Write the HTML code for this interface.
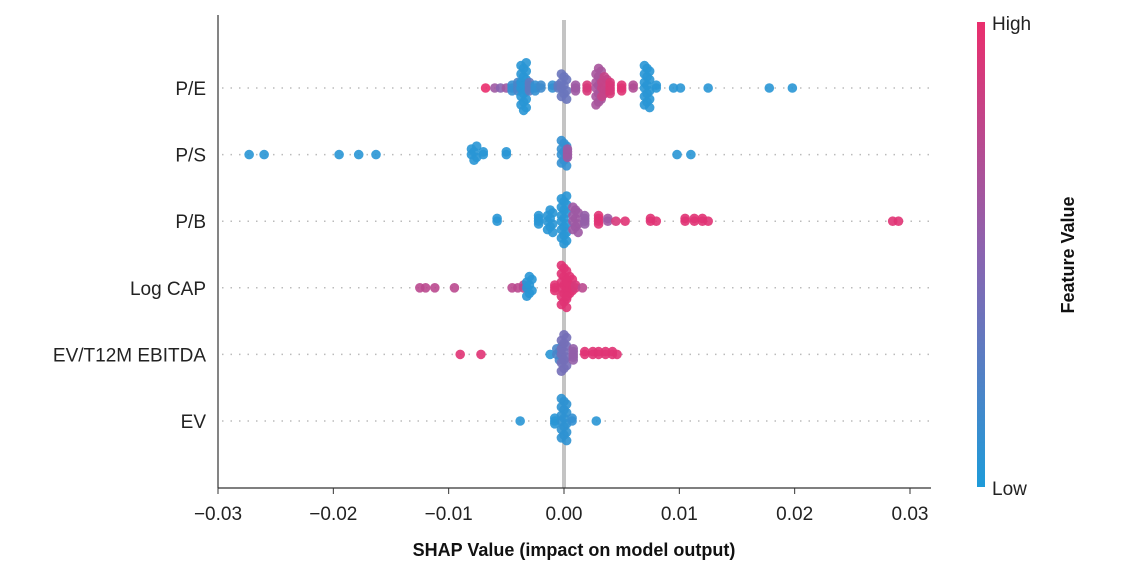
<!DOCTYPE html>
<html><head><meta charset="utf-8"><style>
html,body{margin:0;padding:0;background:#fff;width:1124px;height:568px;overflow:hidden}
svg{font-family:"Liberation Sans",sans-serif}
</style></head><body>
<svg id="chart" width="1124" height="568">
<defs><linearGradient id="cb" x1="0" y1="0" x2="0" y2="1"><stop offset="0" stop-color="#ea2e6d"/><stop offset="0.5" stop-color="#8a64b0"/><stop offset="1" stop-color="#1e9bd9"/></linearGradient></defs>
<g id="grid"></g>
<rect x="562" y="20" width="4" height="468" fill="#c4c4c4"/>
<g id="pts"></g>
<line x1="218" y1="15" x2="218" y2="488" stroke="#333" stroke-width="1.2"/>
<line x1="218" y1="488" x2="931" y2="488" stroke="#333" stroke-width="1.2"/>
<g id="ticks"></g>
<text x="574" y="556" text-anchor="middle" font-size="18" font-weight="bold" fill="#111">SHAP Value (impact on model output)</text>
<rect x="977" y="22" width="8" height="465" fill="url(#cb)"/>
<text x="992" y="30" font-size="19" fill="#222">High</text>
<text x="992" y="495" font-size="19" fill="#222">Low</text>
<text transform="translate(1074,255) rotate(-90)" text-anchor="middle" font-size="18" font-weight="bold" fill="#111">Feature Value</text>
</svg>
<script>
const features=["P/E","P/S","P/B","Log CAP","EV/T12M EBITDA","EV"];
const xTicks=[-0.03,-0.02,-0.01,0.00,0.01,0.02,0.03];
const xTickLabels=["\u22120.03","\u22120.02","\u22120.01","0.00","0.01","0.02","0.03"];
// clusters per feature: shap value, count, feature value (0 low .. 1 high)
const peShap=[-0.0068,-0.006,-0.0055,-0.005,-0.0045,-0.004,-0.0035,-0.003,-0.0025,-0.002,-0.001,-0.0005,0.0,0.001,0.002,0.003,0.0035,0.004,0.005,0.006,0.0072,0.008,0.0095,0.0101,0.0125,0.0178,0.0198];
const peCount=[1,1,1,1,3,4,18,4,3,2,2,2,10,3,3,14,8,5,3,2,16,2,1,1,1,1,1];
const peColor=[1,0.6,0.5,0.6,0.1,0.2,0.05,0.3,0.1,0.15,0.1,0.3,0.35,0.6,0.9,0.65,0.8,0.9,0.95,0.7,0.05,0.05,0.05,0.05,0.05,0.05,0.05];
const psShap=[-0.0273,-0.026,-0.0195,-0.0178,-0.0163,-0.0078,-0.007,-0.005,0.0,0.0003,0.0098,0.011];
const psCount=[1,1,1,1,1,6,2,2,10,4,1,1];
const psColor=[0.05,0.05,0.05,0.05,0.05,0.05,0.05,0.05,0.1,0.6,0.05,0.05];
const pbShap=[-0.0058,-0.0022,-0.0012,0.0,0.001,0.0018,0.003,0.0038,0.0045,0.0053,0.0075,0.008,0.0105,0.0113,0.012,0.0125,0.0285,0.029];
const pbCount=[2,4,9,18,10,4,4,2,1,1,2,1,2,2,2,1,1,1];
const pbColor=[0.05,0.05,0.05,0.05,0.6,0.55,0.95,0.6,0.9,0.95,0.95,0.95,0.95,0.95,0.95,0.95,0.95,0.95];
const lcShap=[-0.0125,-0.012,-0.0112,-0.0095,-0.0045,-0.004,-0.0035,-0.003,-0.0008,0.0,0.0005,0.001,0.0016];
const lcCount=[1,1,1,1,1,1,2,8,3,16,8,2,1];
const lcColor=[0.75,0.75,0.75,0.75,0.75,0.75,0.75,0.05,0.95,0.95,0.95,0.9,0.75];
const evtShap=[-0.009,-0.0072,-0.0012,-0.0004,0.0,0.0008,0.0018,0.0025,0.003,0.0036,0.0042,0.0046];
const evtCount=[1,1,1,6,14,5,2,2,2,2,2,1];
const evtColor=[0.95,0.95,0.05,0.2,0.4,0.55,0.95,0.95,0.95,0.95,0.95,0.95];
const evShap=[-0.0038,-0.0008,0.0,0.0007,0.0028];
const evCount=[1,3,16,2,1];
const evColor=[0.05,0.05,0.08,0.1,0.05];
const shapSets=[peShap,psShap,pbShap,lcShap,evtShap,evShap];
const countSets=[peCount,psCount,pbCount,lcCount,evtCount,evCount];
const colorSets=[peColor,psColor,pbColor,lcColor,evtColor,evColor];

const NS="http://www.w3.org/2000/svg";
const x0=218,x1=910,rowTop=88,rowStep=66.6;
function xs(v){return x0+(v+0.03)/0.06*(x1-x0);}
function ys(i){return rowTop+i*rowStep;}
function col(t){
  const a=[30,155,217],m=[138,100,176],b=[234,46,109];
  let c;
  if(t<0.5){const u=t/0.5;c=a.map((v,k)=>Math.round(v+(m[k]-v)*u));}
  else{const u=(t-0.5)/0.5;c=m.map((v,k)=>Math.round(v+(b[k]-v)*u));}
  return "rgb("+c.join(",")+")";
}
const grid=document.getElementById("grid"),pts=document.getElementById("pts"),ticks=document.getElementById("ticks"),svg=document.getElementById("chart");
features.forEach((f,i)=>{
  const y=ys(i);
  const l=document.createElementNS(NS,"line");
  l.setAttribute("x1",222);l.setAttribute("x2",930);l.setAttribute("y1",y);l.setAttribute("y2",y);
  l.setAttribute("stroke","#bbb");l.setAttribute("stroke-width","1.5");l.setAttribute("stroke-dasharray","1.5 7");
  
  
  grid.appendChild(l);
  const t=document.createElementNS(NS,"text");
  t.setAttribute("x",206);t.setAttribute("y",y+7);t.setAttribute("text-anchor","end");
  t.setAttribute("font-size","19");t.setAttribute("fill","#222");t.textContent=f;
  
  
  svg.appendChild(t);
  const S=shapSets[i],C=countSets[i],K=colorSets[i];
  S.forEach((s,j)=>{
    for(let k=0;k<C[j];k++){
      const off=(k%2===0?1:-1)*Math.ceil(k/2)*2.8;
      const xo=C[j]>5?((k%3)-1)*2.6:0;
      const c=document.createElementNS(NS,"circle");
      c.setAttribute("cx",xs(s)+xo);c.setAttribute("cy",y+off);c.setAttribute("r",4.8);
      c.setAttribute("fill",col(K[j]));c.setAttribute("fill-opacity","0.9");
      
      
      pts.appendChild(c);
    }
  });
});
xTicks.forEach((v,i)=>{
  const x=xs(v);
  const l=document.createElementNS(NS,"line");
  l.setAttribute("x1",x);l.setAttribute("x2",x);l.setAttribute("y1",488);l.setAttribute("y2",494);l.setAttribute("stroke","#333");
  
  
  ticks.appendChild(l);
  const t=document.createElementNS(NS,"text");
  t.setAttribute("x",x);t.setAttribute("y",520);t.setAttribute("text-anchor","middle");t.setAttribute("font-size","19");t.setAttribute("fill","#222");
  t.textContent=xTickLabels[i];
  
  
  ticks.appendChild(t);
});
</script>
</body></html>
